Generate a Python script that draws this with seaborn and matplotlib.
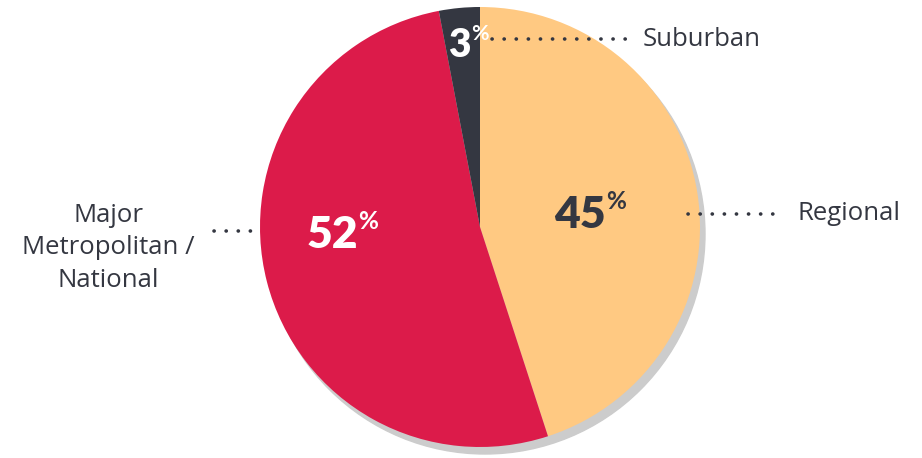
import matplotlib.pyplot as plt
import seaborn as sns
from matplotlib.patches import Circle

# data
categories = ["Regional", "Major\nMetropolitan /\nNational", "Suburban"]
shares = [45, 52, 3]
colors = ["#FFC982", "#DC1B4A", "#343741"]
value_colors = ["#343741", "white", "white"]

sns.set_theme(style="white")
plt.rcParams["font.family"] = ["Open Sans", "DejaVu Sans"]

W, H = 922, 458
fig = plt.figure(figsize=(W / 100, H / 100), dpi=100)
ax = fig.add_axes([0, 0, 1, 1])

cx, cy, r = 480, H - 227, 220

# drop shadow
ax.add_patch(Circle((cx + 5, cy - 7), r, color="#CCCCCC", zorder=1))
ax.pie(shares, colors=colors, startangle=90, counterclock=False,
       center=(cx, cy), radius=r, frame=True,
       wedgeprops=dict(linewidth=0, zorder=2))
ax.set_xlim(0, W)
ax.set_ylim(0, H)
ax.set_aspect("equal")
ax.axis("off")

text_col = "#343741"

# value labels: (number anchor x, baseline y, fontsize)
value_pos = [(606, H - 228, 32), (358, H - 248, 32), (471, H - 57, 28)]
for val, (x, y, fs), c in zip(shares, value_pos, value_colors):
    ax.text(x, y, f"{val}", ha="right", va="baseline", fontsize=fs,
            fontweight="heavy", color=c, zorder=5,
            family=["Lato", "DejaVu Sans"])
    ax.text(x, y + fs * 0.6, "%", ha="left", va="baseline",
            fontsize=fs * 0.55, fontweight="bold", color=c, zorder=5,
            family=["Lato", "DejaVu Sans"])

# category labels with dotted leaders
label_pos = [(797, H - 214, "left"), (108, H - 248, "center"), (643, H - 40, "left")]
leaders = [(688, 780, H - 214), (214, 262, H - 231), (492, 626, H - 39)]
for cat, (x, y, ha), (x0, x1, ly) in zip(categories, label_pos, leaders):
    ax.text(x, y, cat, ha=ha, va="center", fontsize=18.5, color=text_col,
            linespacing=1.4, zorder=5)
    ax.plot([x0, x1], [ly, ly], color=text_col, lw=2.6,
            linestyle=(0, (0.05, 3.3)), dash_capstyle="round", zorder=6)

fig.savefig("out.png", dpi=100)
